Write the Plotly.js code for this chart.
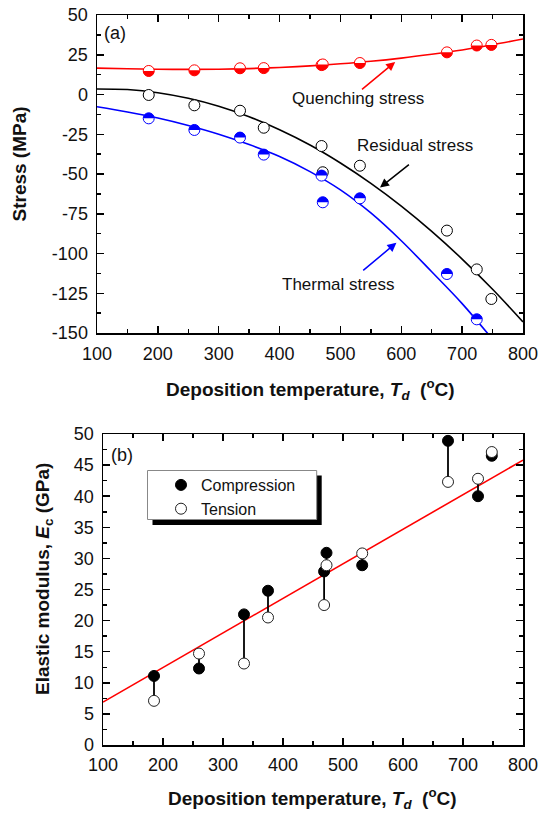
<!DOCTYPE html>
<html><head><meta charset="utf-8">
<script src="https://cdn.plot.ly/plotly-3.0.1.min.js"></script>
<style>html,body{margin:0;padding:0;background:#fff;} #chart{width:539px;height:813px;}</style>
</head><body><div id="chart"></div>
<script>
// ---------- Panel (a): stresses vs deposition temperature ----------
const tempA     = [185, 260, 335, 374, 469, 471, 532, 675, 724, 748];
const quenching = [14.8, 15.2, 16.5, 16.6, 18.5, 18.9, 19.8, 26.5, 30.8, 31.2];
const residual  = [-0.3, -6.8, -10.2, -20.9, -32.4, -48.9, -44.8, -85.6, -110, -128.6];
const thermal   = [-15, -22.3, -27.1, -37.8, -51, -67.8, -65.3, -112.9, -141.4, null];

const fitTempA    = [100,150,200,250,300,350,400,450,500,550,600,650,700,750,800];
const quenchFit   = [16.6,16.2,15.9,15.8,15.9,16.3,17.0,18.0,19.3,20.9,22.9,25.3,28.0,31.3,34.9];
const residualFit = [3.5,3.1,1.1,-2.4,-7.4,-14.0,-22.2,-31.8,-43.1,-55.9,-70.2,-86.1,-103.5,-122.5,-143];
const thermalFit  = [-7.7,-11,-14.8,-19.5,-25,-31.5,-39,-48.5,-60,-74.5,-92,-111.5,-131.5,-154,null];

const stressTickVals = [50, 25, 0, -25, -50, -75, -100, -125, -150];
const stressTickText = ['50', '25', '0', '-25', '-50', '-75', '-100', '-125', '-150'];
const tempTicks = [100, 200, 300, 400, 500, 600, 700, 800];

// ---------- Panel (b): elastic modulus ----------
const tempB       = [185, 260, 335, 375, 468.5, 472.5, 532, 675, 725, 748];
const compression = [11.1, 12.3, 21.0, 24.8, 27.9, 30.9, 28.9, 48.9, 40.0, 46.5];
const tension     = [7.1, 14.7, 13.1, 20.5, 22.5, 28.9, 30.8, 42.3, 42.8, 47.1];
const fitTempB    = [100, 800];
const modulusFit  = [6.9, 45.8];
const modulusTicks = [0, 5, 10, 15, 20, 25, 30, 35, 40, 45, 50];

const FONT = 'Liberation Sans, Arial, sans-serif';
const RED = '#ff0000', BLUE = '#0000ff', BLACK = '#000000';

// connecting segments between compression and tension of each sample
const segX = [], segY = [];
tempB.forEach((t, i) => { segX.push(t, t, null); segY.push(compression[i], tension[i], null); });

const traces = [
  {x: fitTempA, y: quenchFit, xaxis:'x', yaxis:'y', mode:'lines', line:{color:RED, width:1.6, shape:'spline'}, showlegend:false},
  {x: fitTempA, y: residualFit, xaxis:'x', yaxis:'y', mode:'lines', line:{color:BLACK, width:1.6, shape:'spline'}, showlegend:false},
  {x: fitTempA, y: thermalFit, xaxis:'x', yaxis:'y', mode:'lines', line:{color:BLUE, width:1.6, shape:'spline'}, showlegend:false},
  {x: tempA, y: quenching, xaxis:'x', yaxis:'y', mode:'markers', marker:{symbol:'circle', size:11, color:'#fff', line:{color:RED, width:1}}, showlegend:false},
  {x: tempA, y: residual, xaxis:'x', yaxis:'y', mode:'markers', marker:{symbol:'circle', size:11, color:'#fff', line:{color:BLACK, width:1}}, showlegend:false},
  {x: tempA, y: thermal, xaxis:'x', yaxis:'y', mode:'markers', marker:{symbol:'circle', size:11, color:'#fff', line:{color:BLUE, width:1}}, showlegend:false},

  {x: fitTempB, y: modulusFit, xaxis:'x2', yaxis:'y2', mode:'lines', line:{color:RED, width:1.6}, showlegend:false},
  {x: segX, y: segY, xaxis:'x2', yaxis:'y2', mode:'lines', line:{color:BLACK, width:1.8}, showlegend:false, connectgaps:false},
  {x: tempB, y: compression, xaxis:'x2', yaxis:'y2', mode:'markers', name:'Compression', marker:{symbol:'circle', size:11, color:BLACK, line:{color:BLACK, width:1}}},
  {x: tempB, y: tension, xaxis:'x2', yaxis:'y2', mode:'markers', name:'Tension', marker:{symbol:'circle', size:11, color:'#fff', line:{color:'#222', width:1}}}
];

// half-filled marker shapes (pixel-sized, anchored at data points)
function halfDisc(x, y, xr, yr, color, top) {
  const r = 5.5, k = 0.5523 * r, s = top ? 1 : -1;
  const path = `M ${-r} 0 C ${-r} ${s*k} ${-k} ${s*r} 0 ${s*r} C ${k} ${s*r} ${r} ${s*k} ${r} 0 Z`;
  return {type:'path', xref:xr, yref:yr, xsizemode:'pixel', ysizemode:'pixel',
          xanchor:x, yanchor:y, path:path, fillcolor:color, line:{width:0}, layer:'above'};
}
const shapes = [];
tempA.forEach((t, i) => {
  if (quenching[i] !== null) shapes.push(halfDisc(t, quenching[i], 'x', 'y', RED, false));
  if (thermal[i] !== null) shapes.push(halfDisc(t, thermal[i], 'x', 'y', BLUE, true));
});
// legend box with shadow (panel b)
const W = 539, H = 813;
const px = v => v / W, py = v => 1 - v / H;
shapes.push({type:'rect', xref:'paper', yref:'paper', x0:px(152.5), x1:px(321.7), y0:py(525), y1:py(475.5), fillcolor:BLACK, line:{width:0}, layer:'above'});
shapes.push({type:'rect', xref:'paper', yref:'paper', x0:px(147.5), x1:px(316.7), y0:py(519.5), y1:py(470.5), fillcolor:'#fff', line:{color:'#888', width:1}, layer:'above'});

const axisCommon = {
  showline:true, linewidth:1.5, linecolor:BLACK, mirror:'allticks',
  ticks:'inside', ticklen:7, tickwidth:1.5, tickcolor:BLACK,
  showgrid:false, zeroline:false, automargin:false,
  tickfont:{family:FONT, size:18, color:'#111'}
};

const annFont = {family:FONT, size:17, color:'#111'};
const arrowCommon = {xref:'x', yref:'y', axref:'x', ayref:'y', text:'', showarrow:true, arrowhead:2, arrowsize:1.2, arrowwidth:1.5};
const annotations = [
  {xref:'x', yref:'y', x:129, y:38.5, text:'(a)', showarrow:false, font:{family:FONT, size:18, color:'#111'}},
  {xref:'x2', yref:'y2', x:132, y:46.7, text:'(b)', showarrow:false, font:{family:FONT, size:18, color:'#111'}},
  {xref:'x', yref:'y', x:529, y:-2.8, text:'Quenching stress', showarrow:false, font:annFont},
  {xref:'x', yref:'y', x:622, y:-31.8, text:'Residual stress', showarrow:false, font:annFont},
  {xref:'x', yref:'y', x:496, y:-119.2, text:'Thermal stress', showarrow:false, font:annFont},
  // arrows: (x,y) = tip on curve, (ax,ay) = tail
  Object.assign({}, arrowCommon, {x:590, y:20.5, ax:533, ay:2.4, arrowcolor:RED}),
  Object.assign({}, arrowCommon, {x:565, y:-58.5, ax:615, ay:-43.3, arrowcolor:BLACK}),
  Object.assign({}, arrowCommon, {x:592, y:-93.2, ax:535, ay:-111.4, arrowcolor:BLUE}),
  // axis titles
  {xref:'paper', yref:'paper', x:px(310), y:py(390), xanchor:'center', yanchor:'middle', text:'<b>Deposition temperature, <i>T</i><sub><i>d</i></sub>  (<sup>o</sup>C)</b>', showarrow:false, font:{family:FONT, size:19, color:'#111'}},
  {xref:'paper', yref:'paper', x:px(312), y:py(798), xanchor:'center', yanchor:'middle', text:'<b>Deposition temperature, <i>T</i><sub><i>d</i></sub>  (<sup>o</sup>C)</b>', showarrow:false, font:{family:FONT, size:19, color:'#111'}},
  {xref:'paper', yref:'paper', x:px(19.5), y:py(164), xanchor:'center', yanchor:'middle', text:'<b>Stress (MPa)</b>', textangle:-90, showarrow:false, font:{family:FONT, size:19, color:'#111'}},
  {xref:'paper', yref:'paper', x:px(44), y:py(579), xanchor:'center', yanchor:'middle', text:'<b>Elastic modulus, <i>E</i><sub>c</sub> (GPa)</b>', textangle:-90, showarrow:false, font:{family:FONT, size:19, color:'#111'}}
];

const layout = {
  width:W, height:H, margin:{l:0, r:0, t:0, b:0},
  paper_bgcolor:'#fff', plot_bgcolor:'#fff',
  showlegend:true,
  legend:{x:px(161), y:py(468), xanchor:'left', yanchor:'top', bgcolor:'rgba(0,0,0,0)', borderwidth:0,
          font:{family:FONT, size:16, color:'#111'}, tracegroupgap:0},
  xaxis: Object.assign({}, axisCommon, {domain:[px(97), px(523)], anchor:'y', range:[100, 800],
          tickvals:tempTicks, ticktext:tempTicks.map(String), ticklabelstandoff:4,
          minor:{ticks:'inside', ticklen:4, tickwidth:1.5, tickcolor:BLACK, dtick:50, tick0:100, showgrid:false}}),
  yaxis: Object.assign({}, axisCommon, {domain:[py(333), py(15)], anchor:'x', range:[-150, 50],
          tickvals:stressTickVals, ticktext:stressTickText, ticklabelstandoff:4,
          minor:{ticks:'inside', ticklen:4, tickwidth:1.5, tickcolor:BLACK, dtick:12.5, tick0:0, showgrid:false}}),
  xaxis2: Object.assign({}, axisCommon, {domain:[px(103), px(523)], anchor:'y2', range:[100, 800],
          tickvals:tempTicks, ticktext:tempTicks.map(String), ticklabelstandoff:3,
          minor:{ticks:'inside', ticklen:4, tickwidth:1.5, tickcolor:BLACK, dtick:50, tick0:100, showgrid:false}}),
  yaxis2: Object.assign({}, axisCommon, {domain:[py(745), py(434)], anchor:'x2', range:[0, 50],
          tickvals:modulusTicks, ticktext:modulusTicks.map(String), ticklabelstandoff:4,
          minor:{ticks:'inside', ticklen:4, tickwidth:1.5, tickcolor:BLACK, dtick:2.5, tick0:0, showgrid:false}}),
  shapes: shapes,
  annotations: annotations
};

Plotly.newPlot('chart', traces, layout, {staticPlot:true, displayModeBar:false});
</script>
</body></html>
